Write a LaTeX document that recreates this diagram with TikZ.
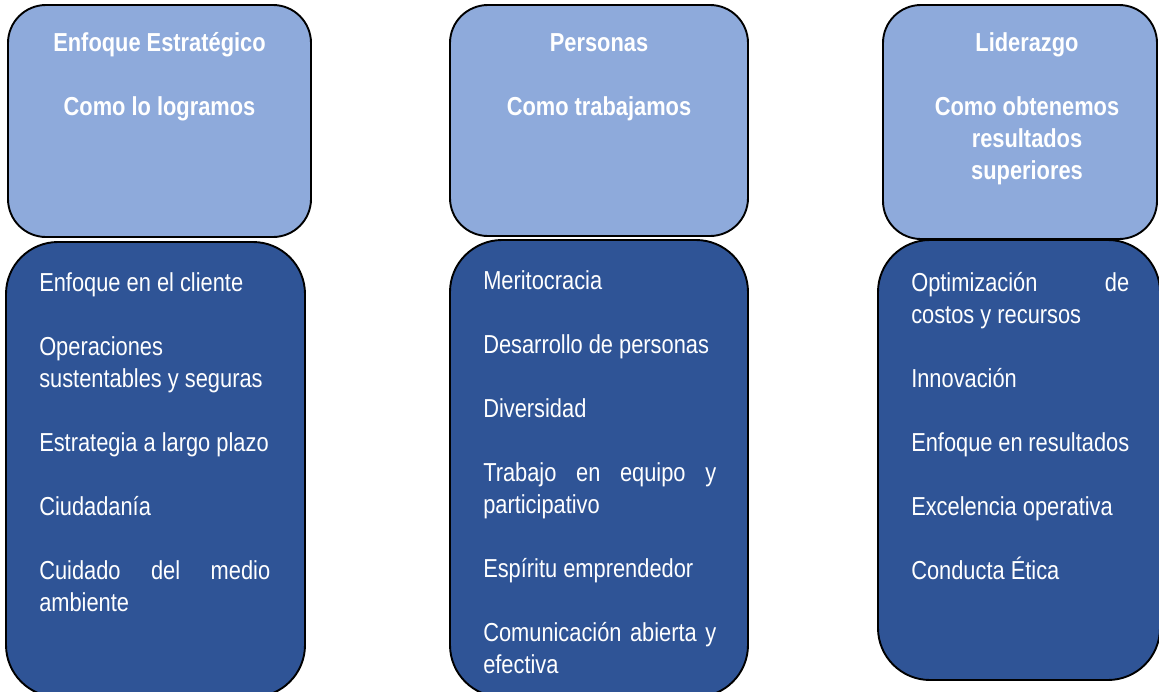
\documentclass[tikz,border=0pt]{standalone}
\usepackage{fontspec}
\setmainfont{Liberation Sans}
\newfontfamily\boxfont[FakeStretch=0.84]{Liberation Sans}
\usetikzlibrary{positioning}
\definecolor{ink}{HTML}{000000}
\definecolor{headfill}{HTML}{8EAADB}
\definecolor{listfill}{HTML}{2F5496}

\begin{document}
\begin{tikzpicture}[
  x=1pt, y=-1pt,
  font=\boxfont\fontsize{26}{32}\selectfont,
  headbox/.style={draw=ink, fill=headfill, line width=1.9pt, rounded corners=38pt,
                  inner sep=0pt},
  listbox/.style={draw=ink, fill=listfill, line width=1.9pt, rounded corners=52pt,
                  inner sep=0pt},
  ttl/.style={text=white, font=\boxfont\bfseries\fontsize{26}{32}\selectfont,
              align=center, anchor=north, inner sep=0pt},
  items/.style={text=white, align=justify, text width=#1, inner sep=0pt},
]
\path[use as bounding box, fill=white] (0,0) rectangle (1159,691);

%% ================= row 1 : the headings =================
\node[headbox, minimum width=303pt, minimum height=232pt] (head1) at (159.5,121) {};
\node[headbox, minimum width=298pt, minimum height=231pt] (head2) at (599,120.5) {};
\node[headbox, minimum width=274pt, minimum height=234pt] (head3) at (1020,122) {};

\node[ttl, below=24.6pt of head1.north] (ttl1)
  {\strut Enfoque Estratégico\\[32pt]Como lo logramos};
\node[ttl, below=24.6pt of head2.north] (ttl2)
  {\strut Personas\\[32pt]Como trabajamos};
\node[ttl, below=24.6pt of head3.north, xshift=7pt] (ttl3)
  {\strut Liderazgo\\[32pt]Como obtenemos\\resultados\\superiores};

%% ================= row 2 : the lists =================
\node[listbox, minimum width=299pt, minimum height=455pt] (list1) at (155.5,469.5) {};
\node[listbox, minimum width=298pt, minimum height=457pt] (list2) at (599,468.5) {};
\node[listbox, minimum width=282pt, minimum height=440pt] (list3) at (1019,460) {};

\node[items=231pt, below right=27.6pt and 34pt of list1.north west] (val1)
  {\strut Enfoque en el cliente\\[32pt]
   Operaciones\\sustentables y seguras\\[32pt]
   Estrategia a largo plazo\\[32pt]
   Ciudadanía\\[32pt]
   Cuidado del medio\linebreak ambiente};
\node[items=233pt, below right=27.6pt and 34pt of list2.north west] (val2)
  {\strut Meritocracia\\[32pt]
   Desarrollo de personas\\[32pt]
   Diversidad\\[32pt]
   Trabajo en equipo y\linebreak participativo\\[32pt]
   Espíritu emprendedor\\[32pt]
   Comunicación abierta y\linebreak efectiva};
\node[items=218pt, below right=29.6pt and 34pt of list3.north west] (val3)
  {\strut Optimización de\linebreak costos y recursos\\[32pt]
   Innovación\\[32pt]
   Enfoque en resultados\\[32pt]
   Excelencia operativa\\[32pt]
   Conducta Ética};

\end{tikzpicture}
\end{document}
